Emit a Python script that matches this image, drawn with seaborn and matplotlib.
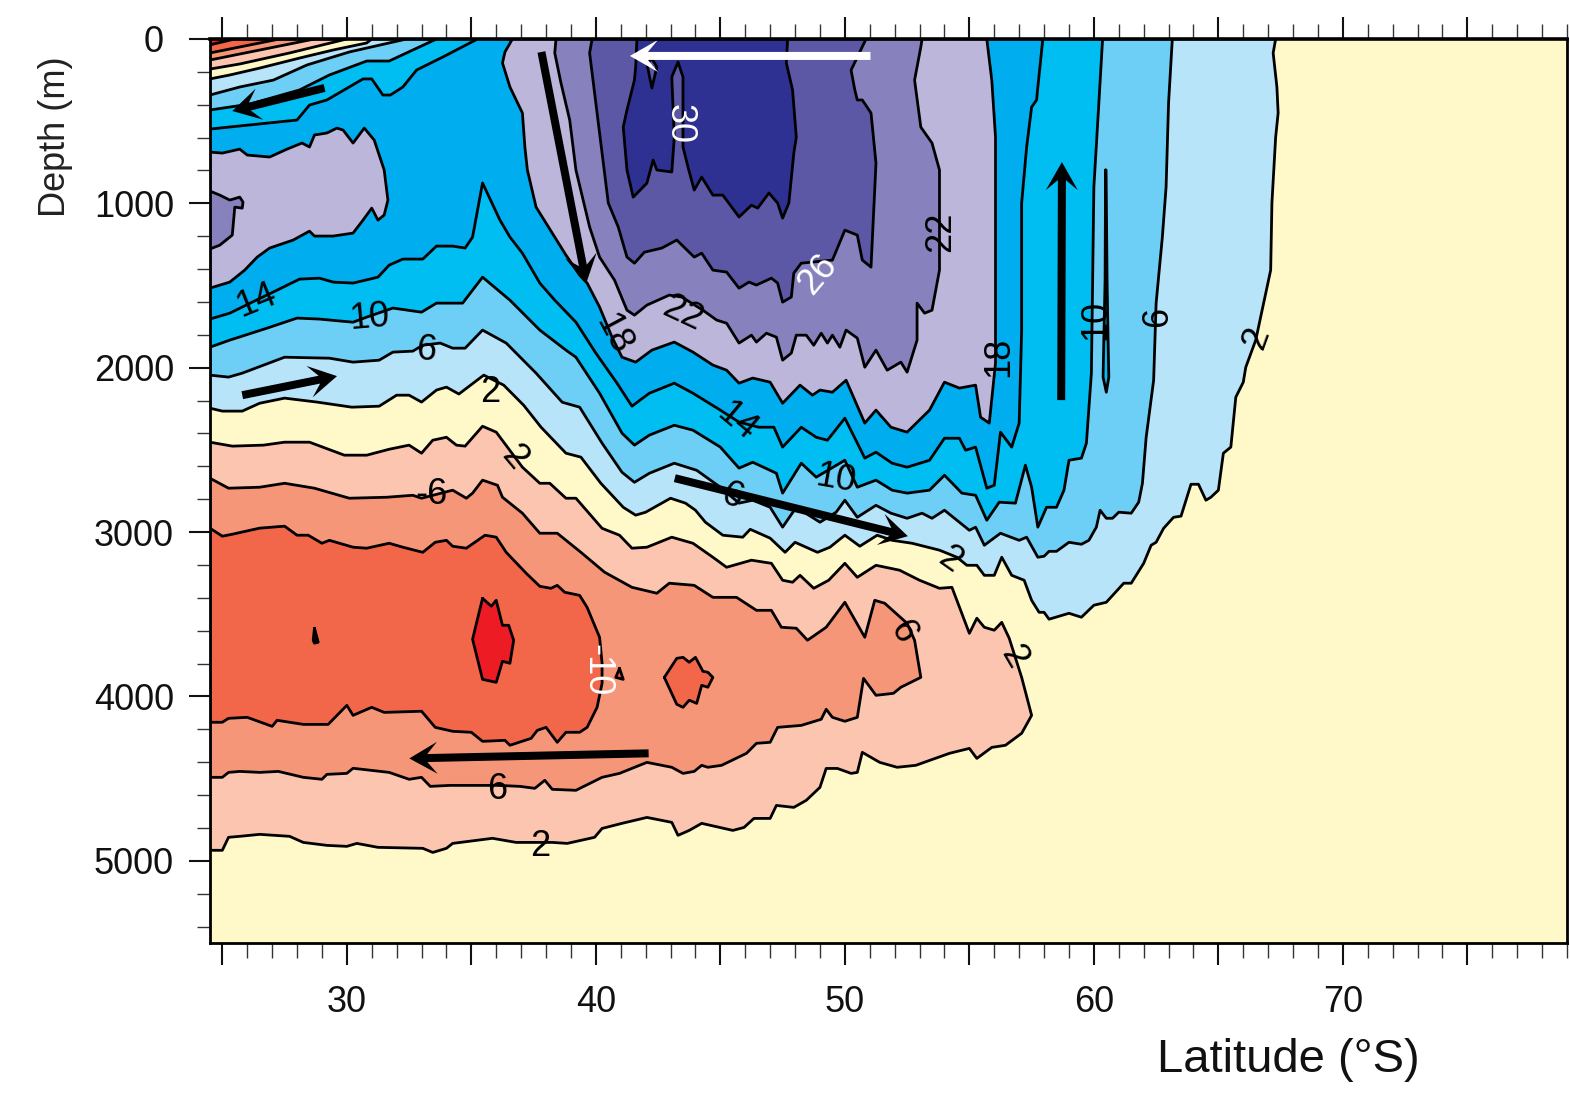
import numpy as np
import matplotlib
matplotlib.use("Agg")
import matplotlib.pyplot as plt
from matplotlib.patches import Polygon
from matplotlib.transforms import IdentityTransform, ScaledTranslation
import seaborn as sns

# ---- contour traces: (latitude in deg S, depth in m) ----
p2_top = [(24.5,243),(25.3,219),(26.5,177),(28.1,116),(29.45,67),(30.8,24),(31,0)]
p2_low = [(24.5,2246),(25,2264),(25.8,2264),(26.5,2216),(27.5,2185),(28.8,2209),(30.2,2240),(31.3,2234),(32,2167),(32.5,2167),
          (33,2209),(33.6,2136),(34,2118),(34.5,2160),(35.5,2045),(36.3,2106),(37.1,2228),(37.8,2362),(38.8,2520),(39.4,2544),
          (40.2,2703),(41.1,2849),(41.6,2897),(42,2879),(43,2794),(43.6,2824),(44,2867),(44.4,2940),(45.1,3019),(45.9,3031),
          (46.2,2983),(47,3037),(47.6,3123),(48,3062),(48.9,3123),(49.4,3092),(50,3019),(50.6,3086),(51.3,3019),(51.9,3050),
          (52.7,3068),(53.8,3110),(54.5,3153),(54.9,3202),(55.3,3202),(55.6,3263),(56,3263),(56.3,3153),(56.7,3263),(57.2,3293),
          (57.5,3415),(57.8,3488),(58,3488),(58.2,3530),(59,3494),(59.5,3518),(60,3445),(60.5,3427),(61.2,3311),(61.5,3311),
          (62,3190),(62.3,3080),(62.5,3062),(62.8,2977),(63.2,2910),(63.5,2903),(63.7,2806),(63.9,2709),(64.2,2709),(64.5,2806),
          (64.7,2788),(65,2745),(65.2,2520),(65.5,2483),(65.7,2179),(66,2088),(66.1,1997),(66.5,1832),(67.1,1406),(67.15,998),
          (67.3,597),(67.4,450),(67.35,292),(67.2,85),(67.3,0)]
p6_top = [(24.5,341),(25.7,292),(27.05,250),(28.4,158),(30.1,79),(32.4,0)]
p6_low = [(24.5,2045),(25.25,2057),(25.8,2033),(27.5,1936),(29.3,1942),(30.25,1966),(31.3,1954),(31.85,1905),(32.65,1899),
          (33.05,1863),(33.75,1850),(34.25,1881),(34.75,1881),(35.45,1771),(36.4,1850),(37.6,2033),(38.65,2210),(39.35,2240),
          (40.25,2459),(41.05,2636),(41.55,2697),(42.15,2642),(43.15,2581),(44.05,2624),(45,2727),(45.75,2824),(46.3,2806),
          (47,2849),(47.5,2970),(48.05,2849),(49,2940),(49.65,2879),(50,2806),(50.5,2910),(51.25,2837),(51.85,2885),(52.5,2916),
          (53.1,2885),(53.5,2916),(54,2867),(55,2989),(55.25,2970),(55.6,3080),(56.25,3007),(57,3050),(57.3,3031),(57.75,3153),
          (58,3147),(58.2,3117),(58.5,3117),(59,3062),(59.5,3074),(59.8,3050),(60.1,2970),(60.25,2867),(60.5,2916),(60.75,2916),
          (61,2879),(61.5,2885),(61.8,2818),(61.95,2703),(62.1,2423),(62.4,2076),(62.5,1607),(62.75,1205),(62.9,901),(63,389),(63.15,0)]
p10_top = [(24.5,432),(26.1,396),(28.1,310),(29.3,219),(30.8,134),(31.7,134),(32.65,67),(33.6,0)]
p10_low = [(24.5,1875),(25.3,1832),(26.8,1759),(28,1698),(28.9,1704),(30.25,1723),(30.8,1692),(31.85,1637),(33,1662),(33.6,1607),
           (34.65,1607),(35.45,1449),(36.55,1589),(37.75,1771),(38.8,1893),(39.2,1936),(40.15,2155),(41.05,2398),(41.55,2471),
           (42.15,2410),(43.15,2350),(43.9,2380),(45,2483),(45.75,2611),(46.3,2575),(47.25,2642),(47.5,2763),(48.25,2581),
           (48.85,2666),(50,2563),(50.5,2727),(51.25,2684),(51.9,2745),(52.5,2763),(53.4,2745),(54,2654),(54.7,2763),(55.25,2776),
           (55.7,2928),(56.2,2818),(56.85,2824),(57.25,2593),(57.5,2727),(57.75,2970),(58.1,2849),(58.5,2849),(58.8,2745),(59,2563),
           (59.5,2550),(59.7,2459),(59.9,2033),(60,901),(60.2,389),(60.35,0)]
p10_sliver = [(60.47,797),(60.45,1467),(60.4,1832),(60.37,2057),(60.5,2149),(60.6,2057),(60.57,1832),(60.53,1467),(60.49,797)]
p14_top = [(24.5,548),(28,493),(28.5,402),(29.2,371),(30.65,243),(31,243),(31.45,341),(31.75,341),(32.25,292),(32.8,189),(33.85,110),(35.25,0)]
p14_low = [(24.5,1704),(25.3,1668),(26.2,1601),(27.2,1528),(28.1,1461),(28.9,1455),(29.45,1479),(30.25,1485),(31.25,1449),(31.7,1376),
           (32.25,1339),(33.05,1339),(33.6,1260),(34.25,1260),(34.75,1272),(35.05,1205),(35.45,876),(36.15,1102),(36.55,1205),(37.05,1303),
           (37.75,1485),(38.35,1589),(39.2,1723),(40,1911),(40.85,2094),(41.45,2234),(42.15,2155),(43.15,2094),(43.9,2155),(45,2258),
           (45.75,2331),(46.55,2362),(47.15,2362),(47.5,2483),(48.25,2362),(48.85,2423),(49.3,2441),(50,2307),(50.8,2550),(51.25,2514),
           (51.9,2581),(52.5,2605),(53.4,2563),(54,2429),(54.6,2429),(54.85,2502),(55.25,2483),(55.7,2733),(56,2715),(56.25,2392),
           (56.7,2483),(57,2337),(57.1,1771),(57.1,998),(57.3,657),(57.5,414),(57.7,371),(57.75,292),(57.95,0)]
p18_left = [(24.5,688),(25,694),(25.7,670),(26,706),(26.9,718),(27.6,670),(28.2,633),(28.5,657),(28.7,584),(29.2,572),(29.6,542),
            (29.85,554),(30.25,633),(30.7,542),(31.1,615),(31.5,797),(31.65,980),(31.5,1071),(31.25,1102),(31,1029),(30.65,1102),
            (30.25,1181),(29.45,1199),(28.7,1199),(28.5,1169),(27.85,1223),(26.9,1272),(26.4,1327),(25.9,1406),(25.3,1479),(24.5,1516)]
p18_main = [(36.65,0),(36.35,79),(36.25,146),(36.55,292),(37.05,450),(37.15,657),(37.25,797),(37.6,1023),(38.25,1181),(38.8,1315),
            (39.35,1437),(39.65,1485),(40.15,1631),(40.65,1814),(41.05,1936),(41.6,1966),(42.25,1893),(43.15,1844),(43.9,1905),
            (44.7,1984),(45.25,2015),(45.75,2094),(46.3,2063),(47,2088),(47.5,2216),(48.2,2106),(48.7,2167),(49,2136),(49.5,2149),
            (50.05,2076),(50.8,2337),(51.25,2258),(51.85,2362),(52.5,2392),(53.4,2258),(54,2088),(54.6,2124),(55.25,2106),(55.45,2301),
            (55.8,2337),(56.05,1972),(56.05,597),(55.9,250),(55.7,0)]
p22_left = [(24.5,925),(24.9,950),(25.3,980),(25.7,962),(25.83,992),(25.8,1029),(25.5,1023),(25.4,1193),(24.9,1254),(24.5,1278)]
p22_main = [(38.4,0),(38.35,85),(38.6,268),(38.95,493),(39.2,797),(39.75,1144),(40.15,1327),(40.75,1467),(41.25,1650),(41.55,1680),
            (42.05,1619),(42.95,1558),(43.45,1570),(44.3,1650),(44.85,1710),(45.25,1729),(45.75,1850),(46.25,1802),(46.45,1844),
            (46.85,1790),(47.25,1814),(47.5,1954),(47.85,1911),(48.05,1802),(48.45,1802),(48.75,1863),(49.05,1790),(49.3,1850),
            (49.5,1802),(49.8,1875),(50.05,1771),(50.5,1820),(50.8,1997),(51.25,1893),(51.7,2015),(52.25,1966),(52.5,2027),(52.9,1832),
            (52.9,1607),(53.2,1668),(53.5,1650),(53.8,1406),(53.8,797),(53.5,633),(53.05,536),(52.8,250),(53.05,49),(53.1,0)]
p26_main = [(39.85,0),(39.75,85),(39.95,329),(40.25,694),(40.5,998),(40.9,1144),(41.25,1327),(41.55,1364),(41.95,1297),(42.65,1272),
            (43.25,1223),(43.95,1327),(44.25,1303),(44.7,1406),(45.25,1418),(45.75,1516),(46.15,1479),(46.45,1497),(47.05,1455),
            (47.3,1485),(47.5,1601),(47.85,1570),(47.95,1424),(48.25,1364),(49.5,1345),(50,1163),(50.5,1193),(50.7,1345),(51.05,1388),
            (51.25,755),(51.05,450),(50.7,371),(50.5,371),(50.4,310),(50.25,189),(50.85,0)]
p30_main = [(41.65,0),(41.6,170),(41.55,250),(41.25,432),(41.1,536),(41.25,797),(41.5,962),(42.05,877),(42.3,737),(42.45,797),
            (43.05,809),(43.15,597),(43.05,231),(43.3,140),(43.5,231),(43.5,657),(43.7,779),(43.95,919),(44.25,840),(44.7,950),
            (45.1,950),(45.75,1083),(46.25,1011),(46.5,1029),(46.95,937),(47.3,998),(47.5,1090),(47.75,998),(47.95,694),(48.05,597),
            (47.9,310),(47.65,146),(47.7,0)]
p30_notch = [(42.05,150),(42.25,298),(42.45,170),(42.25,120)]
n2_top = [(24.5,183),(25.7,152),(27.7,85),(30,0)]
n6_top = [(24.5,128),(26.5,67),(28.7,0)]
n10_top = [(24.5,85),(27.3,0)]
n14_top = [(24.5,36),(25.5,0)]
n2_main = [(24.5,2453),(25.4,2477),(26.65,2471),(27.5,2453),(28.5,2453),(29.9,2532),(30.8,2532),(31.7,2496),(32.5,2471),(33,2520),
           (33.45,2441),(34,2423),(34.4,2471),(34.75,2477),(35.45,2356),(36,2392),(37.05,2605),(37.75,2703),(38.15,2703),(38.8,2794),
           (39.2,2794),(40.25,2977),(40.95,3019),(41.45,3098),(42.05,3092),(43.05,3031),(43.9,3068),(44.7,3153),(45.25,3214),(46.25,3171),
           (47.05,3190),(47.5,3293),(47.9,3305),(48.2,3263),(48.75,3342),(49.35,3293),(50,3190),(50.5,3275),(51.25,3202),(52.2,3232),
           (53,3293),(53.8,3342),(54.3,3336),(55,3616),(55.3,3524),(55.6,3579),(56,3597),(56.3,3549),(56.6,3646),(57.1,3884),(57.5,4115),
           (57.1,4224),(56.45,4297),(55.9,4310),(55.3,4377),(55,4316),(54.2,4346),(52.85,4419),(52.1,4431),(51.4,4401),(50.7,4340),
           (50.5,4462),(50.25,4468),(49.7,4438),(49.25,4438),(49,4553),(48.45,4632),(47.95,4675),(47.25,4663),(47,4742),(46.35,4742),
           (45.95,4797),(45.5,4815),(44.25,4772),(43.75,4815),(43.3,4845),(43.05,4766),(42.05,4736),(41.05,4772),(40.25,4803),(39.95,4857),
           (38.85,4894),(38.25,4888),(36.8,4888),(35.85,4863),(34.25,4894),(34,4924),(33.45,4949),(33.05,4924),(31.25,4918),(30.4,4894),
           (30,4912),(29.2,4906),(28.25,4888),(27.7,4851),(26.5,4839),(25.7,4851),(25.25,4857),(25,4936),(24.5,4936)]
n6_main = [(24.5,2672),(25.25,2733),(26.5,2727),(27.5,2703),(28.7,2733),(30.1,2794),(31.6,2788),(32.65,2776),(33,2794),(34.25,2745),
           (34.8,2794),(35.05,2763),(35.45,2684),(36.05,2715),(36.25,2788),(37.05,2885),(37.75,3007),(38.45,3007),(39.4,3123),(40.35,3244),
           (41.45,3336),(42.45,3372),(42.95,3311),(43.95,3324),(44.7,3397),(45.65,3397),(46.45,3476),(47.05,3476),(47.45,3579),(48.05,3585),
           (48.5,3658),(49.25,3579),(50,3427),(50.8,3640),(51.2,3415),(51.6,3433),(52.05,3494),(52.5,3555),(52.8,3658),(53.05,3884),
           (52.25,3944),(51.95,3981),(51.25,3993),(50.75,3890),(50.5,4127),(50,4151),(49.5,4127),(49.25,4078),(49.05,4139),(48.25,4176),
           (47.3,4188),(47,4279),(46.45,4285),(46.05,4346),(45.05,4419),(44.5,4431),(44.25,4419),(43.95,4456),(43.5,4468),(43.05,4431),
           (42.05,4401),(40.95,4468),(40.25,4492),(39.2,4571),(38.25,4565),(37.95,4510),(37.55,4559),(36.95,4547),(36.05,4541),(34.15,4541),
           (33.35,4547),(33,4492),(32.5,4504),(31.7,4462),(30.25,4437),(30,4468),(29.2,4474),(29,4504),(28.25,4492),(27.25,4456),(26.5,4462),
           (25.7,4456),(25.25,4462),(25,4492),(24.5,4492)]
n10_main = [(24.5,2976),(25,3025),(25.4,3013),(26.5,2976),(27.5,2964),(28,3019),(28.45,3019),(29,3068),(29.3,3050),(30.25,3092),(30.8,3098),
            (31.7,3068),(32.25,3092),(33.05,3123),(33.55,3062),(34,3050),(34.25,3086),(34.8,3098),(35.55,3019),(36,3031),(36.4,3123),(37.2,3250),
            (37.75,3330),(38.2,3342),(38.45,3324),(38.75,3366),(39.35,3385),(39.65,3458),(40.15,3640),(40.25,3798),(40.25,3920),(40.05,4066),
            (39.65,4188),(39.35,4218),(38.8,4218),(38.45,4279),(38,4188),(37.65,4206),(37.4,4255),(36.55,4297),(36.35,4267),(35.45,4273),(35,4218),
            (34.25,4212),(33.55,4188),(33,4090),(31.5,4097),(31,4066),(30.25,4115),(30,4054),(29.25,4170),(28.25,4170),(27.2,4145),(27,4182),
            (26,4127),(25.25,4133),(25,4157),(24.5,4157)]
n10_blob = [(42.75,3884),(43.25,3768),(43.5,3762),(43.75,3792),(44,3762),(44.3,3847),(44.5,3853),(44.7,3884),(44.5,3944),(44.25,3932),
            (44.05,4042),(43.75,4023),(43.5,4066),(43.25,4048)]
n10_tiny = [(40.95,3829),(41.1,3896),(40.8,3884)]
n14_blob = [(35.45,3403),(35.8,3451),(36,3415),(36.25,3567),(36.5,3567),(36.7,3658),(36.55,3798),(36.25,3786),(36,3914),(35.45,3896),(35.05,3652)]
n14_dot = [(28.7,3585),(28.85,3670),(28.7,3676),(28.65,3658)]

BLACK = "#000000"
WHITE = "#FFFFFF"
# contour labels: text, latitude, depth, rotation, colour
contour_labels = [("14",26.3,1570,22,BLACK),("10",30.9,1674,5,BLACK),("6",33.2,1868,-5,BLACK),("2",35.75,2124,0,BLACK),("2",36.85,2532,-50,BLACK),
                  ("-6",33.4,2745,0,BLACK),("18",40.85,1784,-62,BLACK),("22",43.55,1650,-25,BLACK),("26",48.8,1418,50,WHITE),("22",53.7,1175,90,BLACK),
                  ("30",43.5,517,-90,WHITE),("18",56,1936,90,BLACK),("10",59.9,1710,90,BLACK),("6",62.4,1692,90,BLACK),("2",66.4,1814,70,BLACK),
                  ("14",45.75,2307,-40,BLACK),("10",49.65,2654,-10,BLACK),("6",45.5,2763,-20,BLACK),("2",54.3,3153,-35,BLACK),("-10",40.2,3841,-90,WHITE),
                  ("6",52.45,3597,-60,BLACK),("2",56.9,3749,-60,BLACK),("6",36.05,4541,0,BLACK),("2",37.75,4888,0,BLACK)]
# circulation arrows: tail lat, tail depth, tip lat, tip depth, colour
flow_arrows = [(29.1,298,25.4,438,BLACK),(25.8,2167,29.6,2051,BLACK),(37.8,79,39.6,1485,BLACK),(51,103,41.35,103,WHITE),
               (58.65,2197,58.68,749,BLACK),(43.15,2672,52.5,3025,BLACK),(42.1,4346,32.5,4377,BLACK)]

x_major = [25,30,35,40,45,50,55,60,65,70,75]
x_labels = ["","30","","40","","50","","60","","70",""]
y_major = [0,1000,2000,3000,4000,5000]

c_bg = "#FFF9C9"
c = {"p2":"#B8E4FA","p6":"#6DCFF6","p10":"#00BDF2","p14":"#00AEEF","p18":"#BBB6DA","p22":"#8781BD","p26":"#5C58A6","p30":"#2E3192",
     "n2":"#FCC5B0","n6":"#F69679","n10":"#F26649","n14":"#ED1C24"}

sns.set_theme(style="ticks")
plt.rcParams["font.family"] = ["Liberation Sans", "DejaVu Sans"]
plt.rcParams["axes.unicode_minus"] = False

fig = plt.figure(figsize=(15.7, 10.99), dpi=100)
ax = fig.add_axes([209.5/1570, (1099-943)/1099, 1357.5/1570, 904/1099])
ax.set_facecolor(c_bg)

z = [2]
def region(points, colour):
    pts = list(points) + [points[0]]
    la = np.array([p[0] for p in pts]); de = np.array([p[1] for p in pts])
    ax.fill(la, de, facecolor=colour, edgecolor="none", zorder=z[0])
    sns.lineplot(x=la, y=de, sort=False, estimator=None, errorbar=None, color=BLACK, lw=2.0, zorder=z[0]+0.5, ax=ax, legend=False)
    z[0] += 1

region(p2_top + p2_low[::-1], c["p2"])
region(p6_top + p6_low[::-1], c["p6"])
region(p10_top + p10_low[::-1], c["p10"])
region(p10_sliver, c["p10"])
region(p14_top + p14_low[::-1], c["p14"])
region(p18_left, c["p18"])
region(p18_main, c["p18"])
region(p22_left, c["p22"])
region(p22_main, c["p22"])
region(p26_main, c["p26"])
region(p30_main, c["p30"])
region(p30_notch, c["p26"])
region(n2_main, c["n2"])
region(n6_main, c["n6"])
region(n10_main, c["n10"])
region(n10_blob, c["n10"])
region(n10_tiny, c["n10"])
region(n14_blob, c["n14"])
region(n14_dot, BLACK)
region(n2_top + [(24.5,0)], c["n2"])
region(n6_top + [(24.5,0)], c["n6"])
region(n10_top + [(24.5,0)], c["n10"])
region(n14_top + [(24.5,0)], c["n14"])

ax.set_xlim(24.485, 78.94)
ax.set_ylim(5500, 0)

for txt, la, de, rot, col in contour_labels:
    ax.text(la, de, txt, rotation=rot, rotation_mode="anchor", ha="center", va="center_baseline",
            fontsize=26, color=col, zorder=z[0]+1)

fig.canvas.draw()
def flow_arrow(la0, de0, la1, de1, col, w=8, L=28, N=18, W=16):
    p0 = ax.transData.transform((la0, de0)); p1 = ax.transData.transform((la1, de1))
    u = (p1-p0)/np.linalg.norm(p1-p0); n = np.array([-u[1], u[0]])
    verts = [p0+n*w/2, p1-u*N+n*w/2, p1-u*L+n*W, p1, p1-u*L-n*W, p1-u*N-n*w/2, p0-n*w/2]
    ax.add_patch(Polygon(verts, closed=True, fc=col, ec="none", transform=IdentityTransform(), zorder=z[0]+2, clip_on=False))
for a in flow_arrows:
    flow_arrow(*a)

# axes furniture
ax.set_xticks(x_major); ax.set_xticklabels(x_labels)
ax.set_xticks(np.arange(25, 80), minor=True)
ax.set_yticks(y_major); ax.set_yticklabels([str(v) for v in y_major])
ax.set_yticks(np.arange(0, 5500, 200), minor=True)
ax.tick_params(axis="x", which="major", top=True, bottom=True, direction="out", length=16, width=1.5, pad=14.5, labelsize=26, color="#111111", labelcolor="#111111")
ax.tick_params(axis="x", which="minor", top=True, bottom=True, direction="out", length=10.5, width=1.0, color="#333333")
ax.tick_params(axis="y", which="major", left=True, right=False, direction="out", length=15, width=1.5, pad=10.5, labelsize=26, color="#111111", labelcolor="#111111")
ax.tick_params(axis="y", which="minor", left=True, right=False, direction="out", length=9.5, width=1.0, color="#333333")
for s in ax.spines.values():
    s.set_visible(True); s.set_linewidth(2.0); s.set_color(BLACK); s.set_zorder(100)
ax.spines["top"].set_linewidth(2.6)

zero = ax.get_yticklabels()[0]
zero.set_transform(zero.get_transform() + ScaledTranslation(-10/100, 0, fig.dpi_scale_trans))

ax.set_xlabel("Latitude (°S)", fontsize=34, color="#111111")
ax.xaxis.label.set_va("baseline")
ax.xaxis.set_label_coords(0.795, -(1072-943)/904)
ax.set_ylabel("Depth (m)", fontsize=26, color="#222222", rotation=90)
ax.yaxis.label.set_va("baseline"); ax.yaxis.label.set_rotation_mode("anchor")
ax.yaxis.set_label_coords((65-209.5)/1357.5, (943-137)/904)

fig.savefig("out.png", dpi=100)
